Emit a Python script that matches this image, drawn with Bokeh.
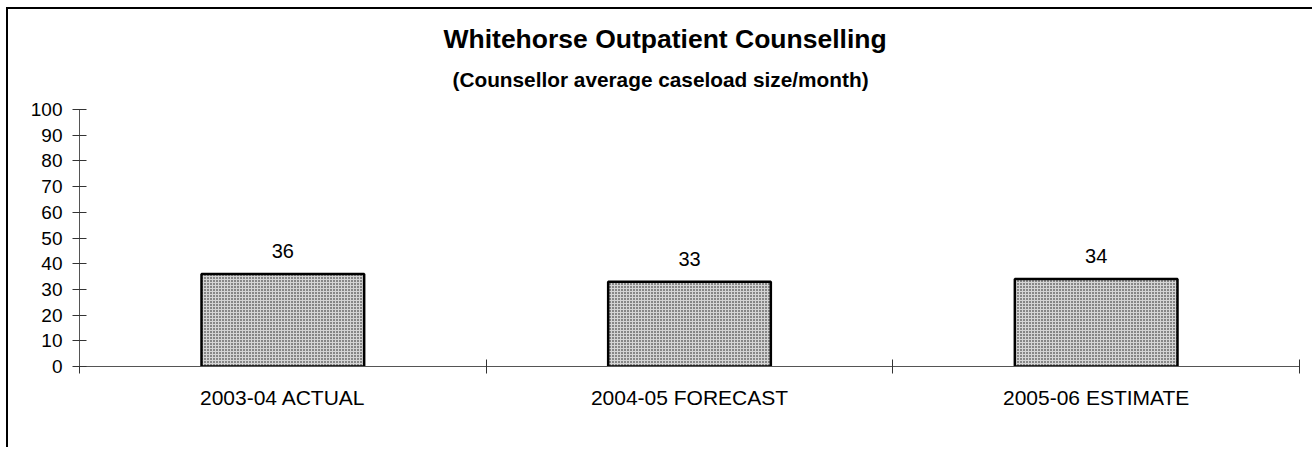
from bokeh.plotting import figure
from bokeh.models import (ColumnDataSource, FixedTicker, Range1d, Title, LabelSet)
from bokeh.core.properties import value
from bokeh.embed import file_html
from bokeh.resources import INLINE

# ---- data ----
categories = ["2003-04 ACTUAL", "2004-05 FORECAST", "2005-06 ESTIMATE"]
values = [36, 33, 34]
y_ticks = [0, 10, 20, 30, 40, 50, 60, 70, 80, 90, 100]
title_text = "Whitehorse Outpatient Counselling"
subtitle_text = "(Counsellor average caseload size/month)"

FONT = "Liberation Sans"

centers = [i + 0.5 for i in range(len(categories))]
bounds = [float(i) for i in range(len(categories) + 1)]

src = ColumnDataSource(dict(x=centers, top=values, label=[str(v) for v in values]))

p = figure(width=1306, height=440, output_backend="svg", toolbar_location=None,
           x_range=Range1d(0, len(categories)), y_range=Range1d(0, 100),
           min_border_left=71, min_border_right=15, min_border_bottom=83,
           min_border_top=100, title=None)
p.styles = {"border-left": "2px solid black", "border-top": "2px solid black",
            "margin-left": "6px", "margin-top": "7px"}
p.outline_line_color = None
p.xgrid.grid_line_color = None
p.ygrid.grid_line_color = None
p.background_fill_color = "white"
p.border_fill_color = "white"

p.vbar(x="x", top="top", width=0.4, bottom=0, source=src,
       fill_color="#d4d4d4", line_color="black", line_width=2.5,
       hatch_pattern="dot", hatch_color="#111111", hatch_scale=3, hatch_weight=1.5)

labels = LabelSet(x="x", y="top", text="label", source=src, y_offset=16,
                  text_align="center", text_baseline="alphabetic",
                  text_font=value(FONT), text_font_size="20px", text_color="black")
p.add_layout(labels)

# x axis: labels at category centres, ticks at boundaries
xa = p.xaxis[0]
xa.ticker = FixedTicker(ticks=centers, minor_ticks=bounds)
xa.major_label_overrides = {c: cat for c, cat in zip(centers, categories)}
xa.major_tick_in = 0
xa.major_tick_out = 0
xa.minor_tick_in = 7
xa.minor_tick_out = 7
xa.minor_tick_line_color = "#333333"
xa.axis_line_color = "#555555"
xa.major_label_text_font = FONT
xa.major_label_text_font_size = "21px"
xa.major_label_text_color = "black"
xa.major_label_standoff = 12

ya = p.yaxis[0]
ya.ticker = FixedTicker(ticks=y_ticks)
ya.major_tick_in = 7
ya.major_tick_out = 7
ya.minor_tick_line_color = None
ya.major_tick_line_color = "#333333"
ya.axis_line_color = "#555555"
ya.major_label_text_font = FONT
ya.major_label_text_font_size = "19px"
ya.major_label_text_color = "black"
ya.major_label_standoff = 10

# titles stacked above the frame (first added is closest to the frame)
p.add_layout(Title(text=" ", text_font_size="1px", standoff=6), "above")
p.add_layout(Title(text=subtitle_text, align="left", offset=373,
                   text_font=FONT, text_font_size="20.8px", text_font_style="bold",
                   text_color="black", standoff=19.6), "above")
p.add_layout(Title(text=title_text, align="left", offset=364,
                   text_font=FONT, text_font_size="26.5px", text_font_style="bold",
                   text_color="black", standoff=4), "above")

open("out.html", "w").write(file_html(p, INLINE))
